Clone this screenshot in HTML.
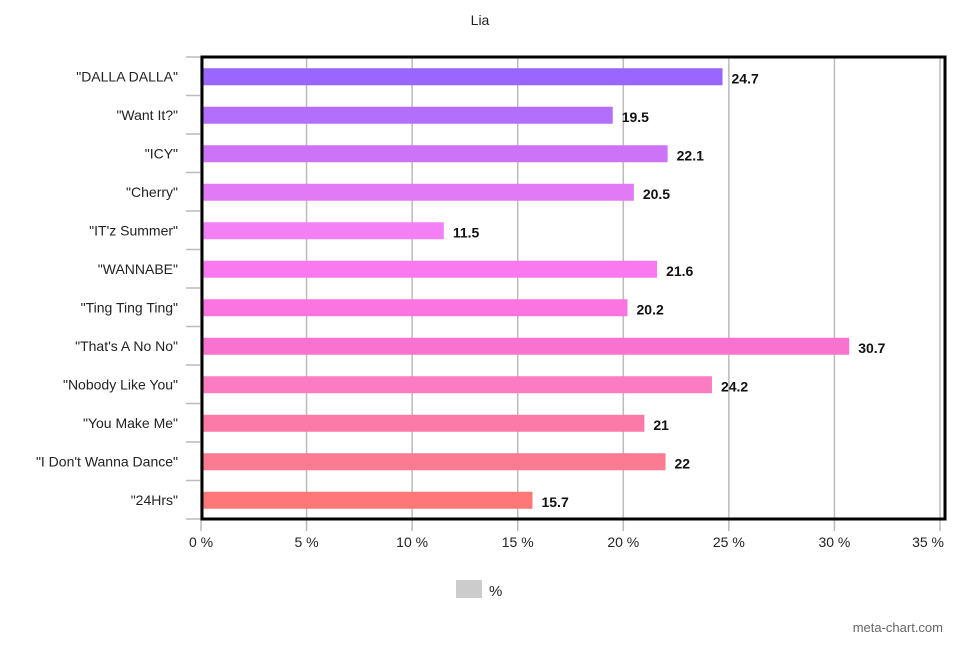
<!DOCTYPE html>
<html><head><meta charset="utf-8"><style>
body{margin:0;background:#fff;font-family:"Liberation Sans",sans-serif}
</style></head><body>
<svg id="c" width="960" height="640" xmlns="http://www.w3.org/2000/svg">
<text x="480" y="25" text-anchor="middle" font-size="14" fill="#222">Lia</text>
<g id="grid"></g><g id="bars"></g>
<rect x="202" y="57" width="743" height="462" fill="none" stroke="#000" stroke-width="3"/>
<g>
<rect x="456" y="580" width="26" height="18" fill="#cccccc"/>
<text x="489" y="596" font-size="15" fill="#222">%</text>
</g>
<text x="943" y="632" text-anchor="end" font-size="13" fill="#666">meta-chart.com</text>
</svg>
<script>
const categories=['"DALLA DALLA"','"Want It?"','"ICY"','"Cherry"','"IT\'z Summer"','"WANNABE"','"Ting Ting Ting"','"That\'s A No No"','"Nobody Like You"','"You Make Me"','"I Don\'t Wanna Dance"','"24Hrs"'];
const values=[24.7,19.5,22.1,20.5,11.5,21.6,20.2,30.7,24.2,21,22,15.7];
const colors=["#9966ff","#b36ffc","#cc73f8","#e27af6","#f480f5","#fb79f0","#fb74e0","#fa72d0","#fb7cc0","#fc7aa8","#fc7a92","#ff7777"];
const ticks=[0,5,10,15,20,25,30,35];
const NS="http://www.w3.org/2000/svg";
const x0=201,x1=940,yTop=57,yBot=519,xmax=35;
const xs=v=>x0+(x1-x0)*v/xmax;
const band=(yBot-yTop)/categories.length;
const grid=document.getElementById('grid'),bars=document.getElementById('bars');
function mk(tag,attrs,parent){const e=document.createElementNS(NS,tag);for(const k in attrs)e.setAttribute(k,attrs[k]);parent.appendChild(e);return e;}
ticks.forEach((t,i)=>{
  const last=i===ticks.length-1;
  const l=mk('line',{x1:xs(t),x2:xs(t),y1:yTop,y2:yBot+12,stroke:'#bbb','stroke-width':1.5},grid);
  
  
  const tx=mk('text',{x:last?944:xs(t),y:547,'text-anchor':last?'end':'middle','font-size':14,fill:'#222'},grid);
  tx.textContent=t+' %';
  
  
});
for(let i=0;i<=categories.length;i++){
  const l=mk('line',{x1:186,x2:202,y1:yTop+i*band,y2:yTop+i*band,stroke:'#bbb','stroke-width':1.5},grid);
  
  
}
categories.forEach((c,i)=>{
  const cy=yTop+band*(i+0.5);
  const r=mk('rect',{x:x0+1,y:cy-8,width:xs(values[i])-x0-1,height:17,fill:colors[i]},bars);
  
  
  const lb=mk('text',{x:178,y:cy+5,'text-anchor':'end','font-size':14,fill:'#222'},bars);
  lb.textContent=c;
  
  
  const v=mk('text',{x:xs(values[i])+9,y:cy+7,'font-size':14,'font-weight':'bold',fill:'#111'},bars);
  v.textContent=values[i];
  
  
});
</script>
</body></html>
